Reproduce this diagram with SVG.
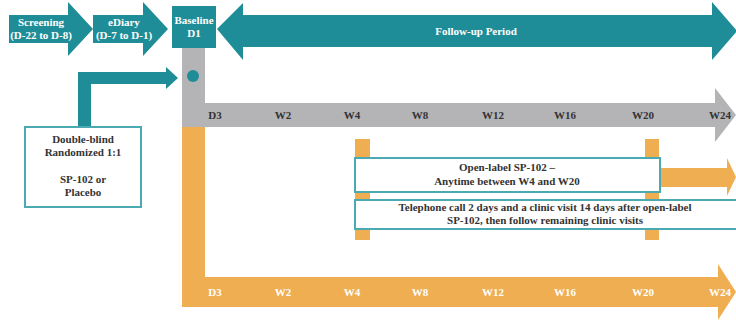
<svg xmlns="http://www.w3.org/2000/svg" width="736" height="320" viewBox="0 0 736 320">
<style>
.teal{fill:#1f8d97}
.gray{fill:#b4b4b7}
.orange{fill:#f0ae52}
.box{fill:#fff;stroke:#4aa9b1;stroke-width:2}
text{font-family:"Liberation Serif",serif;font-weight:bold;font-size:11px;text-anchor:middle}
.w{fill:#fff}
.k{fill:#333}
</style>
<rect width="736" height="320" fill="#fff"/>
<g id="connectors">
<path class="gray" d="M182,48 H205 V103 H715 V88 L736,115 L715,142 V127 H205 V127 H182 Z"/>
<path class="orange" d="M182,127 H205 V277 H718 V264 L736,292 L718,320 V307 H182 Z"/>
<path class="teal" d="M78,127 V72 H166 V67 L178,78 L166,89 V84 H91 V127 Z"/>
<rect class="orange" x="355" y="139" width="15" height="101"/>
<rect class="orange" x="645" y="139" width="14" height="101"/>
<path class="orange" d="M660,168 H727 V158 L736,177 L727,196 V187 H660 Z"/>
</g>
<g id="screening">
<path class="teal" d="M9,15 H68 V2 L93,29 L68,56 V43 H9 Z"/>
<text class="w" x="41" y="26">Screening</text>
<text class="w" x="41" y="39">(D-22 to D-8)</text>
</g>
<g id="ediary">
<path class="teal" d="M93,15 H143 V2 L168,29 L143,56 V43 H93 Z"/>
<text class="w" x="124" y="26">eDiary</text>
<text class="w" x="124" y="39">(D-7 to D-1)</text>
</g>
<g id="baseline">
<rect class="teal" x="172" y="6" width="44" height="42"/>
<text class="w" x="194" y="24">Baseline</text>
<text class="w" x="194" y="37">D1</text>
</g>
<g id="followup">
<path class="teal" d="M217,29 L243,3 V15 H712 V2 L737,31 L712,60 V47 H243 V60 Z"/>
<text class="w" x="476" y="35">Follow-up Period</text>
</g>
<g id="dot"><circle class="teal" cx="193" cy="76" r="6"/></g>
<g id="gray-labels" class="k">
<text x="215" y="119">D3</text><text x="283" y="119">W2</text><text x="352" y="119">W4</text><text x="420" y="119">W8</text>
<text x="493" y="119">W12</text><text x="565" y="119">W16</text><text x="643" y="119">W20</text><text x="720" y="119">W24</text>
</g>
<g id="orange-labels">
<text class="w" x="215" y="296">D3</text><text class="w" x="283" y="296">W2</text><text class="w" x="352" y="296">W4</text><text class="w" x="420" y="296">W8</text>
<text class="w" x="493" y="296">W12</text><text class="w" x="565" y="296">W16</text><text class="w" x="643" y="296">W20</text><text class="w" x="720" y="296">W24</text>
</g>
<g id="randomized">
<rect class="box" x="25" y="127" width="116" height="80"/>
<text class="k" x="83" y="143">Double-blind</text>
<text class="k" x="83" y="156">Randomized 1:1</text>
<text class="k" x="83" y="183">SP-102 or</text>
<text class="k" x="83" y="196">Placebo</text>
</g>
<g id="openlabel">
<rect class="box" x="355" y="158" width="305" height="34"/>
<text class="k" x="507" y="171">Open-label SP-102 –</text>
<text class="k" x="507" y="185">Anytime between W4 and W20</text>
</g>
<g id="telephone">
<rect class="box" x="355" y="200" width="390" height="29"/>
<text class="k" x="545" y="211">Telephone call 2 days and a clinic visit 14 days after open-label</text>
<text class="k" x="545" y="224">SP-102, then follow remaining clinic visits</text>
</g>
</svg>
